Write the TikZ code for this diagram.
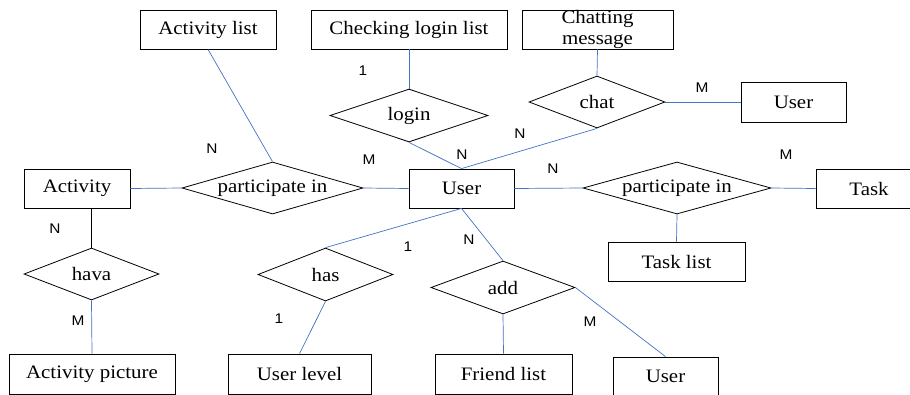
\documentclass[tikz,border=0pt]{standalone}
\usepackage{fontspec}
\setmainfont{Liberation Serif}[FakeStretch=1.1]
\newfontfamily\lblfont{Liberation Sans}[FakeStretch=1.1]
\usetikzlibrary{shapes.geometric}
\definecolor{lineblue}{RGB}{68,114,196}
\tikzset{
  entity/.style={draw=black, line width=0.8pt, rectangle, inner sep=0pt,
    font=\fontsize{19}{21}\selectfont, align=center},
  relation/.style={draw=black, line width=0.8pt, diamond, inner sep=0pt, aspect=1,
    font=\fontsize{19}{21}\selectfont},
  link/.style={draw=lineblue, line width=0.7pt},
  blacklink/.style={draw=black, line width=1.2pt},
  card/.style={font=\lblfont\fontsize{14}{16}\selectfont, inner sep=0pt}
}
\newcommand{\zw}[1]{\makebox[0pt][c]{#1}}
\begin{document}
\begin{tikzpicture}[x=1pt,y=-1pt]
\useasboundingbox (0,0) rectangle (910,394);
% entities
\node[entity, minimum width=136pt, minimum height=39pt] (actlist) at (208,29.5) {Activity list};
\node[entity, minimum width=196pt, minimum height=39pt] (chk) at (409,29.5) {Checking login list};
\node[entity, minimum width=151pt, minimum height=39pt] (chatmsg) at (597.5,29.5) {Chatting\\message};
\node[entity, minimum width=105pt, minimum height=40pt] (user2) at (793.5,102) {User};
\node[entity, minimum width=106pt, minimum height=39pt] (activity) at (77,188.5) {Activity};
\node[entity, minimum width=105pt, minimum height=39pt] (user) at (461.5,188.5) {User};
\node[entity, minimum width=106pt, minimum height=39pt] (task) at (869,188.5) {Task};
\node[entity, minimum width=137pt, minimum height=39pt] (tasklist) at (676.5,261.5) {Task list};
\node[entity, minimum width=166pt, minimum height=40pt] (actpic) at (92,374) {Activity picture};
\node[entity, minimum width=143pt, minimum height=40pt] (ulevel) at (299.5,374) {User level};
\node[entity, minimum width=137pt, minimum height=40pt] (friend) at (503.5,374) {Friend list};
\node[entity, minimum width=105pt, minimum height=38pt] (user3) at (665.5,376) {User};
% relations
\node[relation, minimum width=181pt, minimum height=52pt] (pl) at (272.5,188) {\zw{participate in}};
\node[relation, minimum width=158pt, minimum height=53pt] (login) at (409,115.5) {\zw{login}};
\node[relation, minimum width=136pt, minimum height=52pt] (chat) at (597,102) {\zw{chat}};
\node[relation, minimum width=188pt, minimum height=52pt] (pr) at (677,188) {\zw{participate in}};
\node[relation, minimum width=135pt, minimum height=52pt] (hava) at (91.5,274) {\zw{hava}};
\node[relation, minimum width=135pt, minimum height=53pt] (has) at (325.5,274.5) {\zw{has}};
\node[relation, minimum width=144pt, minimum height=53pt] (add) at (503,287.5) {\zw{add}};
% connectors
\draw[link] (actlist.south) -- (pl.north);
\draw[link] (activity.east) -- (pl.west);
\draw[link] (pl.east) -- (user.west);
\draw[link] (chk.south) -- (login.north);
\draw[link] (login.south) -- (user.north);
\draw[link] (chat.south) -- (user.north);
\draw[link] (chat.east) -- (user2.west);
\draw[link] (chatmsg.south) -- (chat.north);
\draw[link] (user.east) -- (pr.west);
\draw[link] (pr.east) -- (task.west);
\draw[link] (pr.south) -- (tasklist.north);
\draw[blacklink] (hava.north |- activity.south) -- (hava.north);
\draw[link] (hava.south) -- (actpic.north);
\draw[link] (user.south) -- (has.north);
\draw[link] (has.south) -- (ulevel.north);
\draw[link] (user.south) -- (add.north);
\draw[link] (add.south) -- (friend.north);
\draw[link] (add.east) -- (user3.north);
% cardinalities
\node[card] (c1) at (363,71) {1};
\node[card] (c2) at (212,149) {N};
\node[card] (c3) at (369,160) {M};
\node[card] (c4) at (462,155) {N};
\node[card] (c5) at (520,134) {N};
\node[card] (c6) at (702,88) {M};
\node[card] (c7) at (553,169) {N};
\node[card] (c8) at (786,155) {M};
\node[card] (c9) at (55,229) {N};
\node[card] (c10) at (408,247) {1};
\node[card] (c11) at (78,321) {M};
\node[card] (c12) at (279,319) {1};
\node[card] (c13) at (469,240) {N};
\node[card] (c14) at (590,322) {M};
\end{tikzpicture}
\end{document}
